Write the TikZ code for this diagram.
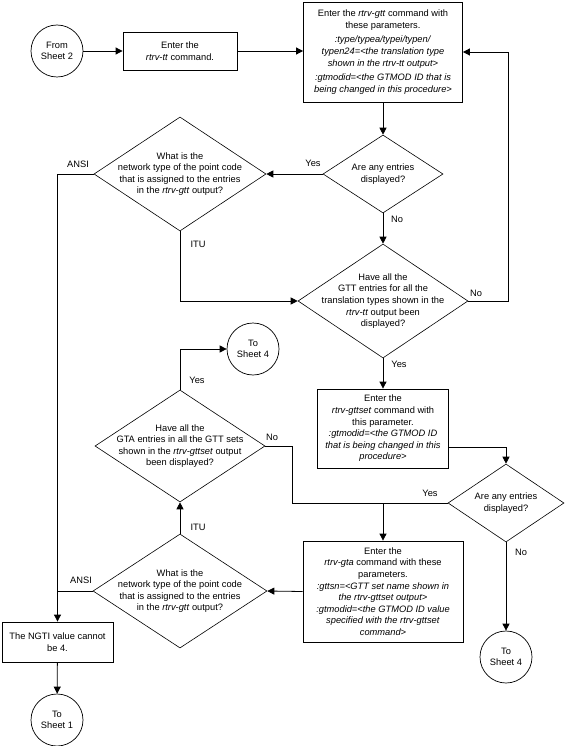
\documentclass[tikz,border=0pt]{standalone}
\usepackage{fontspec}
\setmainfont{Liberation Sans}
\usetikzlibrary{arrows.meta,positioning,shapes.geometric}

\begin{document}
\begin{tikzpicture}[x=1pt, y=-1pt,
      every node/.style={font=\fontsize{9.3}{11.6}\selectfont, align=center},
      cmdbox/.style={draw, line width=0.8pt, inner sep=0pt},
      decision/.style={draw, diamond, line width=0.6pt, inner sep=0pt},
      sheet/.style={draw, circle, line width=0.7pt, minimum size=52pt, inner sep=0pt},
      flow/.style={line width=0.8pt},
      arr/.style={flow, -{Triangle[length=7pt,width=7pt]}},
      lbl/.style={inner sep=1pt}
    ]
  \useasboundingbox (0,0) rectangle (565,746);

  % --- Obere Reihe ---
  \node[sheet] (from2) at (57,51) {From\\Sheet 2};
  \node[cmdbox, minimum width=114pt, minimum height=38pt] (tt) at (180,51)
    {Enter the\\\textit{rtrv-tt} command.};
  \node[cmdbox, minimum width=159pt, minimum height=100pt] (gtt) at (383,52)
    {Enter the \textit{rtrv-gtt} command with\\these parameters.\\[3pt]
     \textit{:type/typea/typei/typen/}\\\textit{typen24=<the translation type}\\
     \textit{shown in the rtrv-tt output>}\\[3pt]
     \textit{:gtmodid=<the GTMOD ID that is}\\\textit{being changed in this procedure>}};

  % --- Entscheidungen ---
  \node[decision, minimum width=120pt, minimum height=78pt,
    label={[name=any1-q]center:{Are any entries\\displayed?}}] (any1) at (383,174) {};
  \node[decision, minimum width=172pt, minimum height=114pt,
    label={[name=nt1-q]center:{What is the\\network type of the point code\\that is assigned to the entries\\in the \textit{rtrv-gtt} output?}}] (nt1) at (180,174) {};
  \node[decision, minimum width=170pt, minimum height=114pt,
    label={[name=allgtt-q]center:{Have all the\\GTT entries for all the\\translation types shown in the\\\textit{rtrv-tt} output been\\displayed?}}] (allgtt) at (383,301) {};

  \node[cmdbox, minimum width=131pt, minimum height=79pt] (gttset) at (383,428.5)
    {Enter the\\\textit{rtrv-gttset} command with\\this parameter.\\
     \textit{:gtmodid=<the GTMOD ID}\\\textit{that is being changed in this}\\\textit{procedure>}};
  \node[sheet] (to4a) at (253,349) {To\\Sheet 4};
  \node[decision, minimum width=170pt, minimum height=112pt,
    label={[name=gtaq-q]center:{Have all the\\GTA entries in all the GTT sets\\shown in the \textit{rtrv-gttset} output\\been displayed?}}] (gtaq) at (180,446) {};
  \node[decision, minimum width=116pt, minimum height=78pt,
    label={[name=any2-q]center:{Are any entries\\displayed?}}] (any2) at (506,503) {};

  % --- Untere Reihe ---
  \node[cmdbox, minimum width=160pt, minimum height=101pt] (gta) at (383,591.5)
    {Enter the\\\textit{rtrv-gta} command with these\\parameters.\\
     \textit{:gttsn=<GTT set name shown in}\\\textit{the rtrv-gttset output>}\\
     \textit{:gtmodid=<the GTMOD ID value}\\\textit{specified with the rtrv-gttset}\\\textit{command>}};
  \node[decision, minimum width=174pt, minimum height=114pt,
    label={[name=nt2-q]center:{What is the\\network type of the point code\\that is assigned to the entries\\in the \textit{rtrv-gtt} output?}}] (nt2) at (180,591) {};
  \node[sheet] (to4b) at (506,657) {To\\Sheet 4};
  \node[cmdbox, minimum width=111pt, minimum height=40pt] (ngti) at (57.5,642)
    {The NGTI value cannot\\be 4.};
  \node[sheet] (to1) at (57,720) {To\\Sheet 1};

  % --- Verbindungen ---
  \draw[arr] (from2) -- (tt);
  \draw[arr] (tt.east) -- (tt.east -| gtt.west);
  \draw[arr] (gtt) -- (any1);
  \draw[arr] (any1.west) -- (nt1.east);
  \draw[arr] (any1) -- (allgtt);
  \draw[arr] (allgtt.east) -- ++(40,0) |- (gtt.east);
  \draw[arr] (nt1.south) |- (allgtt.west);
  \draw[arr] (nt1.west) -| (ngti.north);
  \draw[arr] (allgtt) -- (gttset);
  \coordinate (gsout) at (gttset.east |- 0,447);
  \draw[arr] (gsout) -| (any2.north);
  \coordinate (join) at (gta.north |- any2.west);
  \draw[flow] (any2.west) -- (join);
  \draw[flow] (gtaq.east) -- ++(27,0) |- (join);
  \draw[arr] (join) -- (gta.north);
  \draw[arr] (any2) -- (to4b);
  \draw[arr] (gta.west) -- (nt2.east);
  \draw[arr] (nt2) -- (gtaq);
  \draw[flow] (nt2.west) -- (nt2.west -| ngti.north);
  \draw[arr] (gtaq.north) |- (to4a.west);
  \draw[arr] (ngti) -- (to1);

  % --- Beschriftungen ---
  \node[lbl] (yes1)  at (313,163) {Yes};
  \node[lbl] (no1)   at (397,219) {No};
  \node[lbl] (ansi1) at (78,164)  {ANSI};
  \node[lbl] (itu1)  at (198,244) {ITU};
  \node[lbl] (no2)   at (476,293) {No};
  \node[lbl] (yes2)  at (399,364) {Yes};
  \node[lbl] (yes3)  at (197,380) {Yes};
  \node[lbl] (no3)   at (272,437) {No};
  \node[lbl] (yes4)  at (430,493) {Yes};
  \node[lbl] (no4)   at (521,552) {No};
  \node[lbl] (itu2)  at (198,527) {ITU};
  \node[lbl] (ansi2) at (81,580)  {ANSI};
\end{tikzpicture}
\end{document}
